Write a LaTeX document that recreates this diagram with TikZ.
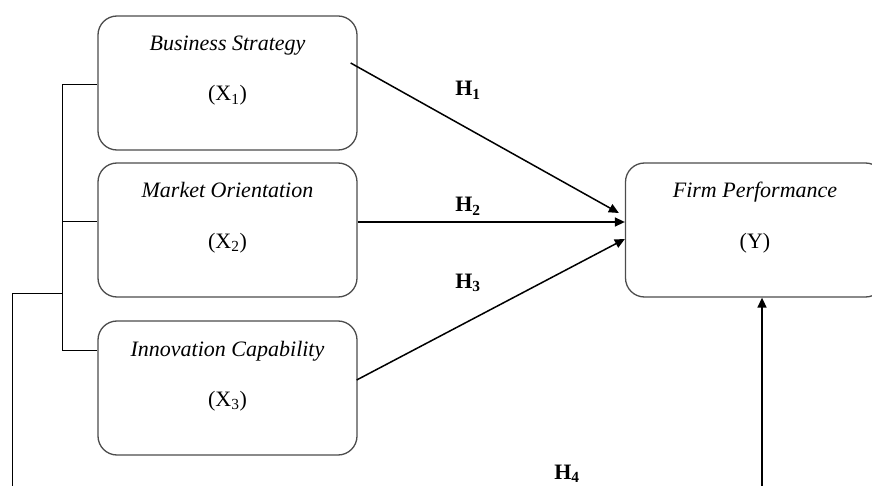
\documentclass[tikz,border=0pt]{standalone}
\usepackage{fontspec}
\setmainfont{Liberation Serif}
\usetikzlibrary{positioning, arrows.meta, calc}

\begin{document}
\begin{tikzpicture}[
        x=1pt, y=-1pt,
        >={Triangle[length=10pt, width=9pt]},
        font=\fontsize{22}{26}\selectfont,
        varbox/.style={draw=black!70, line width=1.3pt, rectangle, rounded corners=19pt,
            minimum width=259pt, minimum height=134pt, inner sep=0pt},
        title/.style={anchor=base, font=\fontsize{22}{26}\selectfont\itshape, inner sep=0pt},
        symb/.style={anchor=base, inner sep=0pt},
        hyp/.style={anchor=base, font=\fontsize{22}{26}\selectfont\bfseries, inner sep=0pt},
        link/.style={draw=black, line width=1pt},
        path/.style={draw=black, line width=1.5pt, ->},
    ]
    \useasboundingbox (0,0) rectangle (872,486);

        % Draw the independent variables
        \foreach \name / \y / \text in {1/83/Business Strategy, 2/230/Market Orientation, 3/388/Innovation Capability}
        {
            \node[varbox] (X-\name) at (227.5,\y) {};
            \node[title] (T-\name) at (227.5,\y-32) {\text};
            \node[symb] (S-\name) at (227.5,\y+18) {(X\textsubscript{\name})};
        }

        % Draw the dependent variable
        \node[varbox] (Y) at (755,230) {};
        \node[title] (T-Y) at (755,198) {Firm Performance};
        \node[symb] (S-Y) at (755,248) {(Y)};

        % Hypothesis labels
        \node[hyp] (H-1) at (468,96) {H\textsubscript{1}};
        \node[hyp] (H-2) at (468,212) {H\textsubscript{2}};
        \node[hyp] (H-3) at (468,288) {H\textsubscript{3}};
        \node[hyp] (H-4) at (567,479) {H\textsubscript{4}};

        % Bracket joining the three variables
        \coordinate (B-top) at (62,85);
        \coordinate (B-mid) at (62,222);
        \coordinate (B-bot) at (62,350);
        \coordinate (B-out) at (62,293);
        \coordinate (C-left) at (12,486);
        \coordinate (C-right) at (762,486);

        \draw[link] (X-1.west |- B-top) -- (B-top) -- (B-bot) -- (X-3.west |- B-bot);
        \draw[link] (B-mid) -- (X-2.west |- B-mid);
        \draw[link] (B-out) -| (C-left);

        % Connect every variable with the firm performance
        \draw[path] ($(X-1.east)+(-7,-20)$) -- ($(Y.west)+(-6,-17)$);
        \draw[path] ($(X-2.east)+(0,-8)$) -- ($(Y.west)+(0,-8)$);
        \draw[path] ($(X-3.east)+(-1,-8)$) -- ($(Y.west)+(0,9)$);
        \draw[path] (C-right) -- (C-right |- Y.south);
    \end{tikzpicture}
\end{document}
